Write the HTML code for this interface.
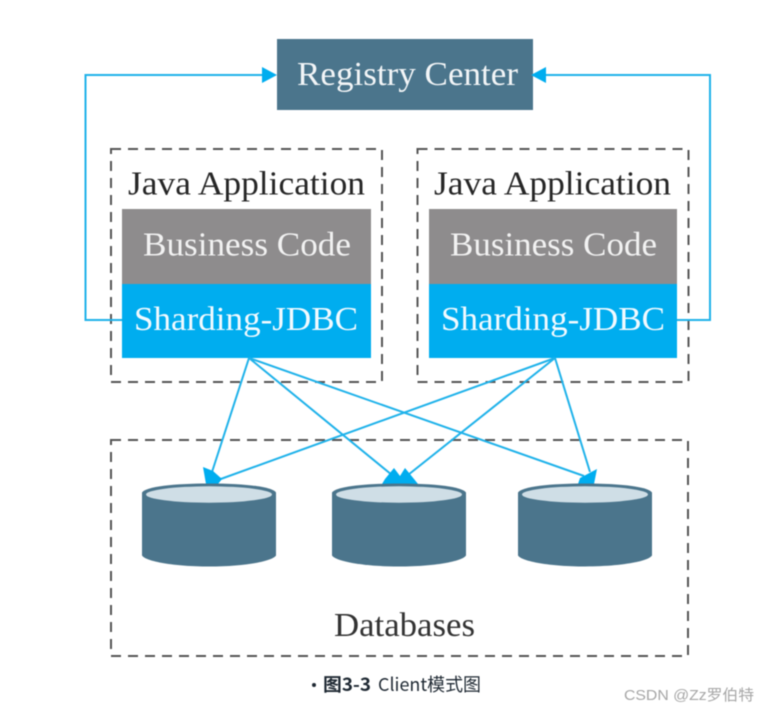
<!DOCTYPE html>
<html><head><meta charset="utf-8"><style>
html,body{margin:0;padding:0;background:#fff}
svg{display:block;filter:blur(.45px)}
.s{font-family:"Liberation Serif",serif;font-size:34px}
.c{font-family:"Noto Sans CJK SC","Liberation Sans",sans-serif;font-size:18px;fill:#1f2933}
</style></head><body>
<svg width="769" height="712" viewBox="0 0 769 712" xmlns="http://www.w3.org/2000/svg">
<defs>
<g id="db">
<path d="M0 9C4 3 32 0 67 0S130 3 134 9V72C130 78 102 83 67 83S4 78 0 72Z" fill="#4b758c"/>
<ellipse cx="67" cy="11" rx="63" ry="8.200" fill="#cfdee6"/>
</g>
</defs>
<rect x="277" y="39" width="256" height="71" fill="#4b758c"/>
<text class="s" x="297" y="85" fill="#f2f5f7" textLength="221" lengthAdjust="spacingAndGlyphs">Registry Center</text>

<g fill="none" stroke="#555" stroke-width="2" stroke-dasharray="10 7">
<rect x="111" y="149" width="271" height="233"/>
<rect x="417.500" y="149" width="271" height="233"/>
<rect x="111" y="440" width="577" height="216"/>
</g>

<text class="s" x="128" y="194.500" fill="#262626" textLength="237" lengthAdjust="spacingAndGlyphs">Java Application</text>
<text class="s" x="434" y="194.500" fill="#262626" textLength="237" lengthAdjust="spacingAndGlyphs">Java Application</text>

<rect x="122" y="209" width="249" height="75" fill="#8e8c8d"/>
<rect x="429" y="209" width="248" height="75" fill="#8e8c8d"/>
<rect x="122" y="284" width="249" height="74" fill="#00adef"/>
<rect x="429" y="284" width="248" height="74" fill="#00adef"/>
<text class="s" x="143" y="255.500" fill="#f2f2f2" textLength="208" lengthAdjust="spacingAndGlyphs">Business Code</text>
<text class="s" x="450" y="255.500" fill="#f2f2f2" textLength="207" lengthAdjust="spacingAndGlyphs">Business Code</text>
<text class="s" x="134" y="330" fill="#f2faff" textLength="224" lengthAdjust="spacingAndGlyphs">Sharding-JDBC</text>
<text class="s" x="441" y="330" fill="#f2faff" textLength="224" lengthAdjust="spacingAndGlyphs">Sharding-JDBC</text>

<g fill="none" stroke="#1fb2ea" stroke-width="2">
<path d="M122 320H85.500V75H264"/>
<path d="M677 320H710V75H546"/>
<path d="M249 358L212 472"/>
<path d="M249 358L392 475"/>
<path d="M249 358L584 476"/>
<path d="M555 358L218 480"/>
<path d="M555 358L408 475"/>
<path d="M555 358L590 472"/>
</g>
<g fill="#00adef">
<path d="M277 75L262 67V83Z"/>
<path d="M531 75L546 67V83Z"/>
<path d="M203 467L213 471L222 479L218 484H206Z"/>
<path d="M385 479L394 468L400 476L405 468L414 479L418 484H382Z"/>
<path d="M580 478L597 469L594 484H578Z"/>
</g>

<use href="#db" x="142" y="483.500"/>
<use href="#db" x="332" y="483.500"/>
<use href="#db" x="518" y="483.500"/>

<text class="s" x="334" y="636" fill="#333" textLength="141" lengthAdjust="spacingAndGlyphs">Databases</text>

<circle cx="314" cy="685" r="2" fill="#1f2933"/>
<text class="c" x="323" y="691" font-weight="bold" textLength="48" lengthAdjust="spacingAndGlyphs">图3-3</text>
<text class="c" x="378" y="691" textLength="103" lengthAdjust="spacingAndGlyphs">Client模式图</text>
<text x="624" y="700" font-family="'Liberation Sans','Noto Sans CJK SC',sans-serif" font-size="15" fill="#a6a6a6" textLength="130" lengthAdjust="spacingAndGlyphs">CSDN @Zz罗伯特</text>
</svg>
</body></html>
